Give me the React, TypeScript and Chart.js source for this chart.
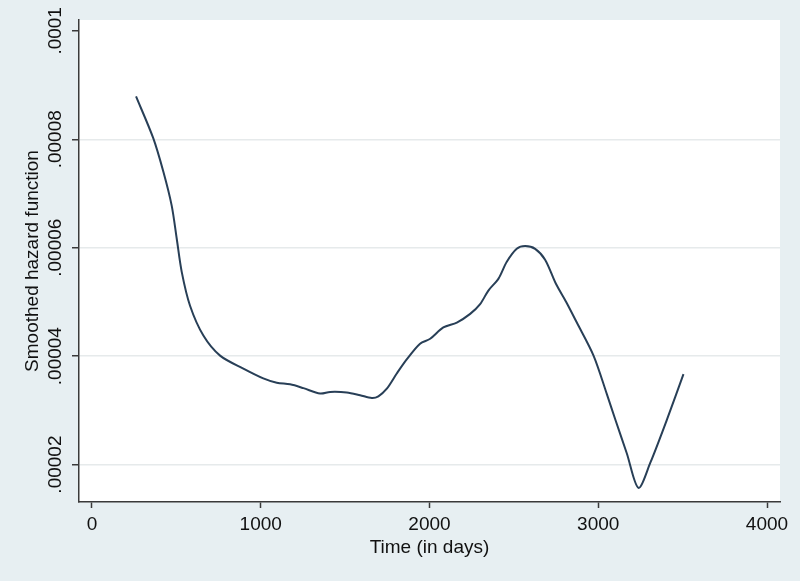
import React, { useEffect, useRef } from 'react';
import { Chart, registerables } from 'chart.js';

Chart.register(...registerables);

const DAYS = [261, 363, 423, 472, 502, 532, 581, 660, 759, 897, 1015, 1095, 1174, 1253, 1352, 1411, 1510, 1589, 1658, 1697, 1747, 1806, 1865, 1944, 2004, 2082, 2162, 2241, 2300, 2349, 2409, 2458, 2517, 2567, 2626, 2685, 2750, 2810, 2873, 2972, 3051, 3100, 3169, 3238, 3308, 3407, 3505];
const HAZARD = [8.79e-5, 8.02e-5, 7.40e-5, 6.78e-5, 6.17e-5, 5.55e-5, 4.93e-5, 4.38e-5, 4.01e-5, 3.77e-5, 3.59e-5, 3.51e-5, 3.48e-5, 3.41e-5, 3.31e-5, 3.34e-5, 3.33e-5, 3.28e-5, 3.23e-5, 3.26e-5, 3.40e-5, 3.68e-5, 3.94e-5, 4.23e-5, 4.32e-5, 4.53e-5, 4.62e-5, 4.78e-5, 4.96e-5, 5.21e-5, 5.43e-5, 5.74e-5, 5.98e-5, 6.03e-5, 5.98e-5, 5.78e-5, 5.33e-5, 5.00e-5, 4.62e-5, 4.01e-5, 3.30e-5, 2.84e-5, 2.21e-5, 1.57e-5, 2.03e-5, 2.83e-5, 3.67e-5];

const X_TICKS = [0, 1000, 2000, 3000, 4000];
const Y_TICKS = [0.00002, 0.00004, 0.00006, 0.00008, 0.0001];
const Y_TICK_LABELS = ['.00002', '.00004', '.00006', '.00008', '.0001'];
const X_TITLE = 'Time (in days)';
const Y_TITLE = 'Smoothed hazard function';

const FONT = '"Liberation Sans", Arial, Helvetica, sans-serif';
const OUTER_BG = '#E7EFF2';
const TEXT_COLOR = '#111111';
const AXIS_COLOR = '#3a3a3a';

export default function App() {
  const ref = useRef<HTMLCanvasElement | null>(null);

  useEffect(() => {
    document.body.style.margin = '0';
    const canvas = ref.current;
    if (!canvas) return;

    const bgPlugin = {
      id: 'bgPlugin',
      beforeDraw(chart: any) {
        const { ctx, chartArea } = chart;
        ctx.save();
        ctx.fillStyle = OUTER_BG;
        ctx.fillRect(0, 0, chart.width, chart.height);
        ctx.fillStyle = '#ffffff';
        ctx.fillRect(chartArea.left, chartArea.top, chartArea.right - chartArea.left, chartArea.bottom - chartArea.top);
        ctx.restore();
      },
    };

    const textPlugin = {
      id: 'textPlugin',
      afterDraw(chart: any) {
        const { ctx, chartArea, scales } = chart;
        const y = scales.y;
        ctx.save();
        ctx.fillStyle = TEXT_COLOR;
        ctx.font = `19px ${FONT}`;
        ctx.textAlign = 'center';
        ctx.textBaseline = 'middle';
        Y_TICKS.forEach((v, i) => {
          const py = y.getPixelForValue(v);
          ctx.save();
          ctx.translate(56, py);
          ctx.rotate(-Math.PI / 2);
          ctx.fillText(Y_TICK_LABELS[i], 0, 0);
          ctx.restore();
        });
        ctx.save();
        ctx.translate(33, (chartArea.top + chartArea.bottom) / 2);
        ctx.rotate(-Math.PI / 2);
        ctx.fillText(Y_TITLE, 0, 0);
        ctx.restore();
        ctx.fillText(X_TITLE, (chartArea.left + chartArea.right) / 2, 548);
        ctx.restore();
      },
    };

    const chart = new Chart(canvas, {
      type: 'line',
      data: {
        datasets: [
          {
            data: DAYS.map((d, i) => ({ x: d, y: HAZARD[i] })),
            borderColor: '#283f57',
            borderWidth: 2,
            pointRadius: 0,
            fill: false,
            tension: 0.3,
          },
        ],
      },
      options: {
        responsive: false,
        animation: false,
        layout: { padding: { left: 0, top: 20, right: 20, bottom: 0 } },
        plugins: {
          legend: { display: false },
          tooltip: { enabled: false },
        },
        scales: {
          x: {
            type: 'linear',
            min: -77,
            max: 4077,
            afterBuildTicks: (s: any) => {
              s.ticks = X_TICKS.map((v) => ({ value: v }));
            },
            afterFit: (s: any) => {
              s.height = 79;
            },
            grid: {
              display: true,
              drawOnChartArea: false,
              drawTicks: true,
              tickLength: 6,
              tickColor: AXIS_COLOR,
              tickWidth: 1.5,
            },
            border: { display: true, color: AXIS_COLOR, width: 1.5 },
            ticks: {
              autoSkip: false,
              maxRotation: 0,
              minRotation: 0,
              padding: 5,
              color: TEXT_COLOR,
              font: { family: FONT, size: 19 },
              callback: (v: any) => String(v),
            },
          },
          y: {
            type: 'linear',
            min: 0.0000131,
            max: 0.000102,
            afterBuildTicks: (s: any) => {
              s.ticks = Y_TICKS.map((v) => ({ value: v }));
            },
            afterFit: (s: any) => {
              s.width = 79;
            },
            grid: {
              display: true,
              drawOnChartArea: true,
              drawTicks: true,
              tickLength: 7,
              lineWidth: 1.5,
              color: (c: any) => (c.index === Y_TICKS.length - 1 ? 'rgba(0,0,0,0)' : '#E6EAEB'),
              tickColor: AXIS_COLOR,
              tickWidth: 1.5,
            },
            border: { display: true, color: AXIS_COLOR, width: 1.5 },
            ticks: { display: false },
          },
        },
      },
      plugins: [bgPlugin, textPlugin],
    } as any);

    return () => chart.destroy();
  }, []);

  return <canvas ref={ref} width={800} height={581} style={{ display: 'block', width: 800, height: 581 }} />;
}
